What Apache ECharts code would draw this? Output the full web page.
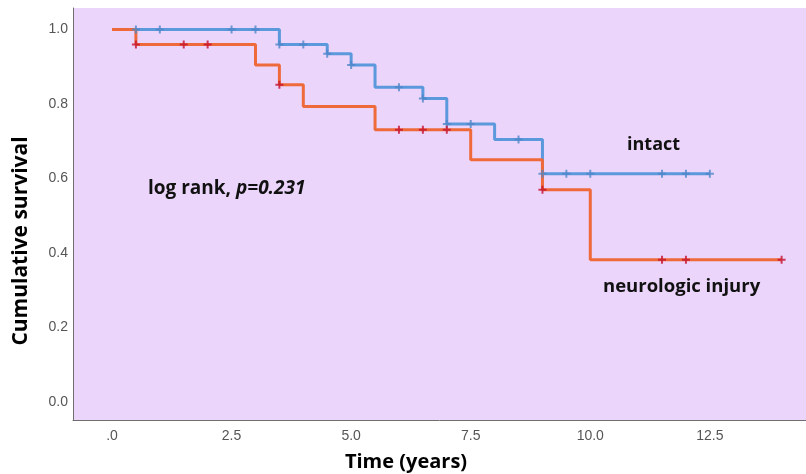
<!DOCTYPE html>
<html>
<head>
<meta charset="utf-8">
<script src="https://cdn.jsdelivr.net/npm/echarts@6/dist/echarts.min.js"></script>
<style>
html,body{margin:0;padding:0;background:#fff;}
#chart{width:806px;height:474px;}
</style>
</head>
<body>
<div id="chart"></div>
<script>
// ---- data ----
const xTicks = [0, 2.5, 5, 7.5, 10, 12.5];
const yTicks = [0, 0.2, 0.4, 0.6, 0.8, 1.0];

// intact group: step points (time, cumulative survival)
const intactTimes = [0, 3.5, 4.5, 5.0, 5.5, 6.5, 7.0, 8.0, 9.0, 12.5];
const intactSurv  = [1.0, 0.96, 0.935, 0.905, 0.845, 0.815, 0.746, 0.705, 0.613, 0.613];
const intactCensor = [0.5, 1.0, 2.5, 3.0, 3.5, 4.0, 4.5, 5.0, 6.0, 6.5, 7.0, 7.5, 8.5, 9.0, 9.5, 10.0, 11.5, 12.0, 12.5];

// neurologic injury group
const injuryTimes = [0, 0.5, 3.0, 3.5, 4.0, 5.5, 7.5, 9.0, 10.0, 14.0];
const injurySurv  = [1.0, 0.96, 0.905, 0.852, 0.793, 0.731, 0.65, 0.57, 0.382, 0.382];
const injuryCensor = [0.5, 1.5, 2.0, 3.5, 6.0, 6.5, 7.0, 9.0, 11.5, 12.0, 14.0];

// ---- helpers ----
function stepData(times, surv){ return times.map((t,i)=>[t, surv[i]]); }
function levelAt(times, surv, t){
  let v = surv[0];
  for (let i=0;i<times.length;i++){ if (times[i] <= t + 1e-9) v = surv[i]; }
  return v;
}
function censorData(cTimes, times, surv){ return cTimes.map(t=>[t, levelAt(times, surv, t)]); }

const plus = 'path://M3,0h2v3h3v2h-3v3h-2v-3h-3v-2h3z';
const labelFont = {fontFamily:'Liberation Sans', fontSize:14, color:'#555'};
const boldFont = 'Open Sans';

const chart = echarts.init(document.getElementById('chart'), null, {renderer:'canvas'});
chart.setOption({
  animation:false,
  backgroundColor:'#ffffff',
  grid:{left:73, top:8, right:0, bottom:54, show:true, backgroundColor:'#ecd5fb', borderWidth:0},
  xAxis:{
    type:'value', min:-0.815, max:14.51,
    axisLine:{show:true, onZero:false, lineStyle:{color:'#6e6e6e', width:1}},
    axisTick:{show:false},
    splitLine:{show:false},
    axisLabel:Object.assign({margin:9, customValues:xTicks,
      formatter:v=> v===0 ? '.0' : v.toFixed(1)}, labelFont)
  },
  yAxis:{
    type:'value', min:-0.0483, max:1.0577,
    axisLine:{show:true, onZero:false, lineStyle:{color:'#6e6e6e', width:1}},
    axisTick:{show:false},
    splitLine:{show:false},
    axisLabel:Object.assign({margin:5, customValues:yTicks,
      formatter:v=> v.toFixed(1)}, labelFont)
  },
  series:[
    {type:'line', name:'intact', step:'end', showSymbol:false, data:stepData(intactTimes,intactSurv),
     lineStyle:{color:'#5b98dc', width:3}, z:2},
    {type:'line', name:'neurologic injury', step:'end', showSymbol:false, data:stepData(injuryTimes,injurySurv),
     lineStyle:{color:'#ef6a3a', width:3}, z:3},
    {type:'scatter', data:censorData(intactCensor,intactTimes,intactSurv), symbol:plus, symbolSize:8,
     itemStyle:{color:'#4f86c8'}, z:4},
    {type:'scatter', data:censorData(injuryCensor,injuryTimes,injurySurv), symbol:plus, symbolSize:8,
     itemStyle:{color:'#c4122f'}, z:5}
  ],
  graphic:[
    {type:'text', x:148, y:189, style:{rich:{a:{fontFamily:boldFont, fontWeight:'bold', fontSize:19, fill:'#111'}, b:{fontFamily:boldFont, fontWeight:'bold', fontStyle:'italic', fontSize:19, fill:'#111'}}, text:'{a|log rank, }{b|p=0.231}', verticalAlign:'middle'}},
    {type:'text', x:627, y:145, style:{text:'intact', fontFamily:boldFont, fontWeight:'bold', fontSize:18, fill:'#111', verticalAlign:'middle'}},
    {type:'text', x:603, y:287, style:{text:'neurologic injury', fontFamily:boldFont, fontWeight:'bold', fontSize:18.5, fill:'#111', verticalAlign:'middle'}},
    {type:'text', x:406, y:462, style:{text:'Time (years)', fontFamily:boldFont, fontWeight:'bold', fontSize:20, fill:'#000', align:'center', verticalAlign:'middle'}},
    {type:'text', x:21, y:241, rotation:Math.PI/2, style:{text:'Cumulative survival', fontFamily:boldFont, fontWeight:'bold', fontSize:21, fill:'#000', align:'center', verticalAlign:'middle'}}
  ]
});
</script>
</body>
</html>
